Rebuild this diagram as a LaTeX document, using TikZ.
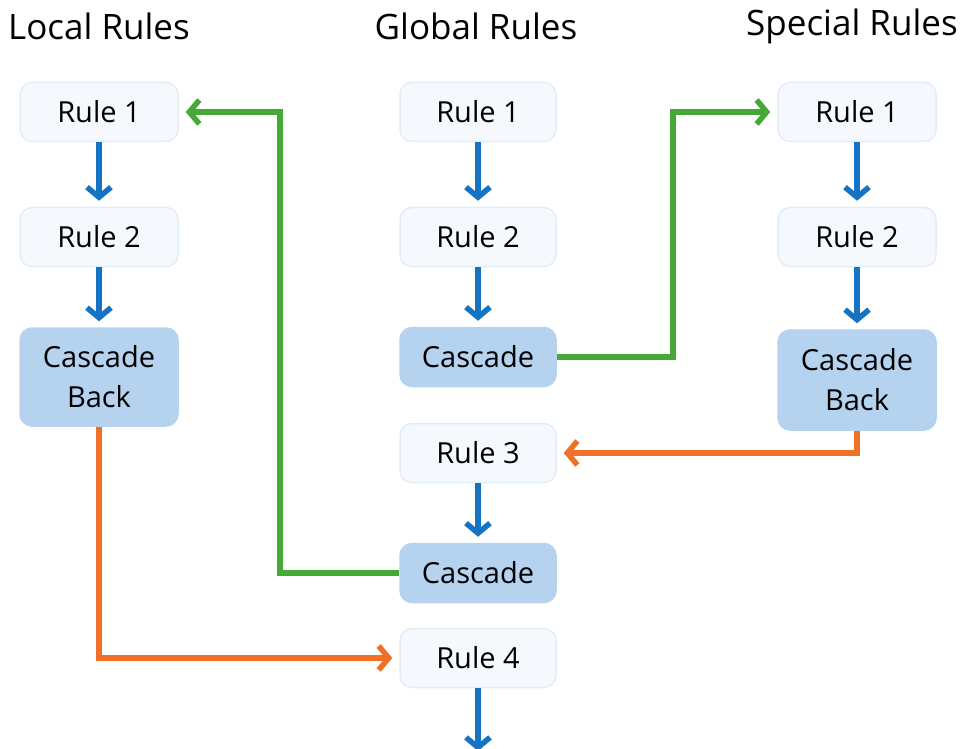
\documentclass[tikz,border=0pt]{standalone}
\usepackage{fontspec}
\setmainfont{Open Sans}
\usepackage{xcolor}
\usetikzlibrary{arrows.meta}
\definecolor{flowblue}{HTML}{1473C2}
\definecolor{jumpgreen}{HTML}{45AA35}
\definecolor{backorange}{HTML}{EE7127}
\definecolor{rulefill}{HTML}{F5F9FD}
\definecolor{ruleline}{HTML}{E2EDF8}
\definecolor{cascfill}{HTML}{B5D3EE}

\begin{document}
\begin{tikzpicture}[x=1pt, y=-1pt,
  rulebox/.style={rectangle, rounded corners=12pt, draw=ruleline, line width=1.5pt, fill=rulefill, minimum width=158pt, minimum height=59pt, inner sep=2pt, font=\fontsize{29}{40}\selectfont},
  cascbox/.style={rulebox, draw=cascfill, fill=cascfill, align=center},
  title/.style={font=\fontsize{35}{40}\selectfont},
  flow/.style={draw=flowblue, line width=5.5pt, -{Straight Barb[length=10pt,width=24pt,line width=5.5pt]}, shorten >=6pt},
  jump/.style={draw=jumpgreen, line width=5.5pt, -{Straight Barb[length=10pt,width=24pt,line width=5.5pt]}, shorten >=7pt},
  goback/.style={draw=backorange, line width=5.5pt, -{Straight Barb[length=10pt,width=24pt,line width=5.5pt]}, shorten >=7pt}]
\useasboundingbox (0,0) rectangle (962,749);

% column titles
\node (ltitle) [title] at (99,26) {Local Rules};
\node (gtitle) [title] at (476,26) {Global Rules};
\node (stitle) [title] at (852,26) {Special Rules};

% local rules
\node (lrule1) [rulebox] at (99,112) {Rule 1};
\node (lrule2) [rulebox] at (99,237) {Rule 2};
\node (lback) [cascbox, minimum height=98pt] at (99,377) {Cascade\\Back};

% global rules
\node (grule1) [rulebox, minimum width=156pt] at (478,112) {Rule 1};
\node (grule2) [rulebox, minimum width=156pt] at (478,237) {Rule 2};
\node (gcasc) [cascbox, minimum width=156pt] at (478,357) {Cascade};
\node (grule3) [rulebox, minimum width=156pt] at (478,453) {Rule 3};
\node (gcasc2) [cascbox, minimum width=156pt] at (478,573) {Cascade};
\node (grule4) [rulebox, minimum width=156pt] at (478,658) {Rule 4};
\coordinate (gend) at (478,751);

% special rules
\node (srule1) [rulebox] at (857,112) {Rule 1};
\node (srule2) [rulebox] at (857,237) {Rule 2};
\node (sback) [cascbox, minimum height=100pt] at (857,380) {Cascade\\Back};

% straight flow
\draw[flow] (lrule1) -- (lrule2);
\draw[flow] (lrule2) -- (lback);
\draw[flow] (grule1) -- (grule2);
\draw[flow] (grule2) -- (gcasc);
\draw[flow] (grule3) -- (gcasc2);
\draw[flow, shorten >=0pt] (grule4) -- (gend);
\draw[flow] (srule1) -- (srule2);
\draw[flow] (srule2) -- (sback);

% jumps and returns
\draw[jump] (gcasc2.west) -| (280,112) -- (lrule1.east);
\draw[jump] (gcasc.east) -| (673,112) -- (srule1.west);
\draw[goback] (lback.south) |- (grule4.west);
\draw[goback] (sback.south) |- (grule3.east);
\end{tikzpicture}
\end{document}
